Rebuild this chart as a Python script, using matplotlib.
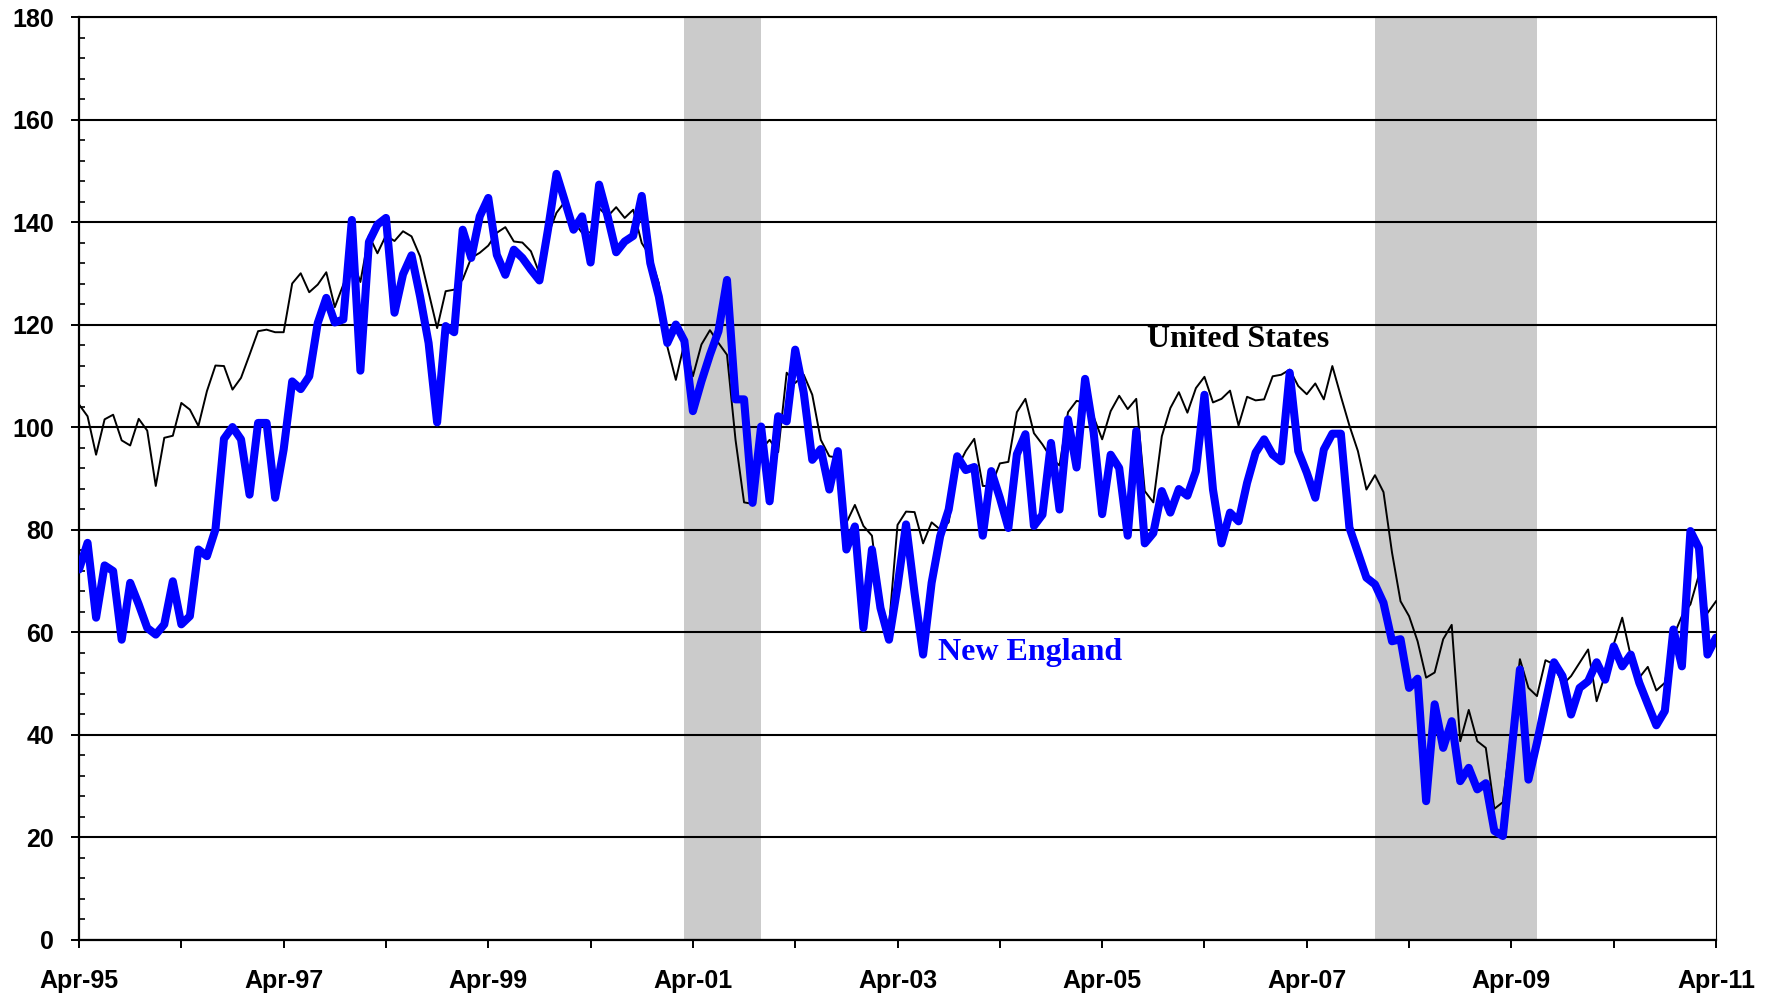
import matplotlib
matplotlib.use("Agg")
import matplotlib.pyplot as plt
import numpy as np

# Monthly index values, Apr-1995 .. Apr-2011 (193 months)
us_values = [
    104.4, 102.1, 94.6, 101.5, 102.4, 97.4, 96.4, 101.6, 99.3, 88.5, 97.9, 98.3,
    104.7, 103.4, 100.2, 107.0, 112.0, 111.9, 107.3, 109.6, 114.1, 118.7, 119.0, 118.5,
    118.5, 128.0, 130.0, 126.3, 127.8, 130.2, 123.4, 127.8, 133.0, 128.3, 137.4, 133.9,
    137.4, 136.3, 138.2, 137.2, 133.3, 126.3, 119.3, 126.5, 126.8, 128.8, 133.0, 134.0,
    135.4, 137.9, 139.0, 136.2, 136.0, 134.3, 130.0, 137.5, 141.8, 144.0, 140.1, 137.9,
    138.0, 142.7, 141.1, 142.9, 140.8, 142.4, 135.9, 133.3, 128.1, 115.7, 109.2, 116.4,
    109.9, 116.1, 118.9, 116.4, 114.1, 97.5, 85.3, 85.0, 95.6, 97.5, 95.1, 110.6,
    108.6, 110.2, 106.3, 97.5, 94.3, 94.0, 81.3, 84.8, 80.7, 78.8, 65.6, 61.1,
    80.9, 83.5, 83.4, 77.3, 81.4, 80.0, 81.4, 92.0, 95.3, 97.7, 88.5, 88.5,
    92.9, 93.2, 102.9, 105.5, 98.8, 96.6, 94.0, 92.5, 102.9, 105.1, 104.8, 102.0,
    97.6, 103.1, 106.1, 103.5, 105.5, 87.5, 85.3, 98.2, 103.7, 106.8, 102.8, 107.6,
    109.8, 104.8, 105.5, 107.1, 100.3, 105.9, 105.2, 105.4, 109.9, 110.2, 111.2, 108.0,
    106.4, 108.5, 105.4, 111.9, 106.0, 100.3, 95.3, 87.8, 90.6, 87.3, 75.5, 66.0,
    63.1, 58.2, 51.1, 52.1, 58.6, 61.4, 38.7, 44.8, 38.7, 37.4, 25.5, 26.8,
    40.4, 54.7, 49.1, 47.5, 54.5, 53.7, 49.7, 51.4, 54.0, 56.6, 46.5, 51.7,
    57.6, 62.8, 55.3, 51.1, 53.2, 48.6, 50.1, 59.2, 63.1, 65.4, 71.2, 63.7,
    66.0,
]

ne_values = [
    72.2, 77.4, 62.8, 73.0, 71.9, 58.5, 69.6, 65.4, 60.8, 59.5, 61.5, 69.9,
    61.5, 63.1, 76.1, 74.8, 80.0, 97.7, 100.0, 97.6, 86.8, 100.8, 100.8, 86.2,
    95.6, 108.9, 107.4, 109.9, 120.3, 125.2, 120.4, 121.0, 140.4, 111.0, 136.1, 139.5,
    140.8, 122.3, 129.8, 133.5, 125.5, 116.4, 100.9, 119.7, 118.5, 138.5, 133.0, 141.1,
    144.7, 133.6, 129.7, 134.6, 133.0, 130.7, 128.6, 138.5, 149.4, 144.0, 138.5, 141.1,
    132.1, 147.3, 141.1, 134.1, 136.2, 137.3, 145.1, 132.0, 125.5, 116.4, 120.0, 116.8,
    103.1, 108.9, 114.1, 118.7, 128.7, 105.4, 105.4, 85.2, 100.1, 85.5, 102.1, 101.1,
    115.1, 106.7, 93.6, 95.7, 87.8, 95.3, 76.1, 80.6, 60.8, 76.1, 64.7, 58.5,
    68.9, 81.0, 67.6, 55.6, 69.6, 78.7, 83.9, 94.3, 91.6, 92.2, 78.8, 91.4,
    86.2, 80.3, 94.7, 98.6, 80.7, 82.9, 96.9, 83.9, 101.5, 92.1, 109.4, 99.0,
    83.0, 94.6, 92.0, 78.8, 99.2, 77.3, 79.3, 87.5, 83.3, 87.9, 86.6, 91.4,
    106.3, 87.8, 77.3, 83.3, 81.6, 89.1, 95.0, 97.6, 94.6, 93.3, 110.6, 95.3,
    91.1, 86.2, 95.6, 98.7, 98.7, 80.4, 75.5, 70.6, 69.3, 65.7, 58.2, 58.6,
    49.1, 50.9, 27.0, 45.9, 37.4, 42.6, 30.9, 33.5, 29.3, 30.5, 21.2, 20.2,
    36.3, 52.7, 31.2, 38.4, 46.2, 54.1, 51.4, 43.9, 49.1, 50.4, 54.1, 50.7,
    57.2, 53.3, 55.6, 50.1, 45.9, 41.8, 44.6, 60.5, 53.3, 79.7, 76.4, 55.6,
    58.9,
]

# x tick labels (one tick per year, label every second year)
tick_labels = ["Apr-95", "", "Apr-97", "", "Apr-99", "", "Apr-01", "", "Apr-03",
               "", "Apr-05", "", "Apr-07", "", "Apr-09", "", "Apr-11"]

# Recession periods (month index from Apr-95)
recessions = [(71, 80), (152, 171)]

months = np.arange(len(us_values))

fig = plt.figure(figsize=(17.72, 9.96), dpi=100)
ax = fig.add_axes([0.0446, 0.0567, 0.9238, 0.9262])

for start, end in recessions:
    ax.axvspan(start, end, color="#cbcbcb", lw=0, zorder=0.2)

ax.set_axisbelow(True)
ax.yaxis.grid(True, color="black", lw=1.5)

ax.plot(months, us_values, color="black", lw=1.4, zorder=3,
        solid_joinstyle="round")
ax.plot(months, ne_values, color="#0000ff", lw=5.8, zorder=4,
        solid_joinstyle="round", solid_capstyle="round")

ax.set_xlim(0, len(us_values) - 1)
ax.set_ylim(0, 180)

ax.set_yticks(np.arange(0, 181, 20))
ax.set_yticks(np.arange(0, 181, 4), minor=True)
ax.set_xticks(np.arange(0, len(us_values), 12))
ax.set_xticklabels(tick_labels)

tick_font = dict(family="Liberation Sans", weight="bold", size=18)
for lab in ax.get_xticklabels() + ax.get_yticklabels():
    lab.set_fontfamily(tick_font["family"])
    lab.set_fontweight(tick_font["weight"])
    lab.set_fontsize(tick_font["size"])

ax.tick_params(axis="y", which="major", direction="out", length=6, width=1.4, pad=12)
ax.tick_params(axis="y", which="minor", direction="in", length=4.5, width=1.2)
ax.tick_params(axis="x", which="major", direction="out", length=6, width=1.4, pad=15)

for side in ["left", "bottom"]:
    ax.spines[side].set_linewidth(1.6)
ax.spines["right"].set_linewidth(0.8)
ax.spines["top"].set_linewidth(1.5)

ax.text(125.3, 115.7, "United States", family="Liberation Serif", weight="bold",
        fontsize=23, color="black", ha="left", va="baseline", zorder=5)
ax.text(100.75, 54.6, "New England", family="Liberation Serif", weight="bold",
        fontsize=23, color="#0000ff", ha="left", va="baseline", zorder=5)

fig.savefig("out.png", dpi=100)
